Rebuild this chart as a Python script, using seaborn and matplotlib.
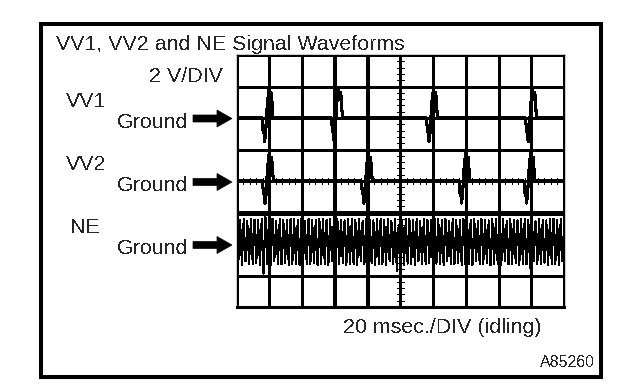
import numpy as np
import pandas as pd
import matplotlib
matplotlib.use("Agg")
import matplotlib.pyplot as plt
import matplotlib.transforms as mtransforms
from matplotlib.patches import Rectangle, Polygon
import seaborn as sns

# ---------------- data ----------------
time_range_ms = [0, 200]          # 10 divisions x 20 ms
ms_per_div = 20
volts_per_div = 2
volt_range = [-8, 8]              # 8 divisions x 2 V
vv1_ground_v = 4.0
vv2_ground_v = 0.0
ne_ground_v = -4.0

vv1_pulse_start_ms = [15.6, 58.0, 116.0, 176.5]
vv2_pulse_start_ms = [15.8, 76.2, 135.8, 175.5]
pulse_dt_ms = [0.0, 0.7, 1.0, 1.6, 2.3, 2.7, 3.3, 4.3, 5.1, 5.7, 6.7]
vv1_pulse_v = [0.0, -0.9, -0.5, -1.5, -0.8, 0.0, 1.0, 1.85, 1.15, 1.6, 0.0]
vv2_pulse_v = [0.0, -0.8, -0.5, -1.4, -0.8, 0.0, 1.0, 1.85, 1.2, 1.5, 0.0]

ne_tooth_period_ms = 2.2
ne_high_v = [1.6, 1.55, 1.6, 1.45, 1.6, 1.55, 1.5, 1.6]
ne_low_v = [-1.3, -1.35, -1.1, -1.3, -1.3, -1.2, -1.35, -1.25]
ne_gap_ms = [17.5, 98.0, 179.5]
ne_gap_high_v = [1.95, 1.2, 1.7]
ne_gap_low_v = [-1.9, -1.7, -1.5]

title_text = "VV1, VV2 and NE Signal Waveforms"
scale_text = "2 V/DIV"
channel_labels = ["VV1", "VV2", "NE"]
ground_label = "Ground"
time_text = "20 msec./DIV (idling)"
code_text = "A85260"

# ---------------- build traces ----------------
def pulse_trace(starts, shape, ground):
    t = [time_range_ms[0]]
    v = [ground]
    for s in starts:
        for dt, dv in zip(pulse_dt_ms, shape):
            t.append(s + dt)
            v.append(ground + dv)
    t.append(time_range_ms[1])
    v.append(ground)
    return pd.DataFrame({"t": t, "v": v})

vv1_df = pulse_trace(vv1_pulse_start_ms, vv1_pulse_v, vv1_ground_v)
vv2_df = pulse_trace(vv2_pulse_start_ms, vv2_pulse_v, vv2_ground_v)

ne_t, ne_v = [], []
half = ne_tooth_period_ms / 2
for i, t in enumerate(np.arange(time_range_ms[0], time_range_ms[1] + 1e-9, half)):
    k = i // 2
    val = ne_high_v[k % len(ne_high_v)] if i % 2 == 0 else ne_low_v[k % len(ne_low_v)]
    for g, gh, gl in zip(ne_gap_ms, ne_gap_high_v, ne_gap_low_v):
        if abs(t - g) < half:
            val = gh if i % 2 == 0 else gl
    ne_t.append(t)
    ne_v.append(ne_ground_v + val)
ne_df = pd.DataFrame({"t": ne_t, "v": ne_v})

# ---------------- figure ----------------
sns.set_style("white")
plt.rcParams["font.family"] = ["Liberation Sans", "DejaVu Sans"]
plt.rcParams["lines.antialiased"] = False
plt.rcParams["text.antialiased"] = False

W, H = 624, 390
fig = plt.figure(figsize=(W / 100, H / 100), dpi=100)
px = mtransforms.Affine2D().scale(1 / W, -1 / H).translate(0, 1) + fig.transFigure

gx0, gx1, gy0, gy1 = 236.5, 564.0, 55.0, 307.0
ax = fig.add_axes([gx0 / W, 1 - gy1 / H, (gx1 - gx0) / W, (gy1 - gy0) / H])

# graticule
ax.set_xlim(*time_range_ms)
ax.set_ylim(*volt_range)
ax.set_xticks(np.arange(time_range_ms[0], time_range_ms[1] + 1, ms_per_div))
ax.set_yticks(np.arange(volt_range[0], volt_range[1] + 1, volts_per_div))
ax.tick_params(length=0, labelbottom=False, labelleft=False)
ax.grid(True, color="black", lw=0.8)
ax.set_axisbelow(True)
for s in ["top", "left", "right"]:
    ax.spines[s].set_color("black")
    ax.spines[s].set_linewidth(1.0)
ax.spines["bottom"].set_color("black")
ax.spines["bottom"].set_linewidth(2.2)
for xv in [60, 80]:
    ax.axvline(xv, color="black", lw=1.5)
ax.axhline(-2, color="black", lw=2.2)

# minor ticks on centre lines
cx = (time_range_ms[0] + time_range_ms[1]) / 2
ax.hlines(np.arange(volt_range[0], volt_range[1] + 1e-9, volts_per_div / 5),
          cx - 2.0, cx + 2.0, color="black", lw=0.7)
ax.vlines(np.arange(time_range_ms[0], time_range_ms[1] + 1e-9, ms_per_div / 5),
          -0.22, 0.22, color="black", lw=0.7)

# traces
sns.lineplot(data=ne_df, x="t", y="v", ax=ax, color="black", lw=0.75,
             estimator=None, sort=False)
sns.lineplot(data=vv1_df, x="t", y="v", ax=ax, color="black", lw=1.5,
             estimator=None, sort=False)
sns.lineplot(data=vv2_df, x="t", y="v", ax=ax, color="black", lw=1.5,
             estimator=None, sort=False)
ax.set_xlabel("")
ax.set_ylabel("")

# outer frame
fig.patches.append(Rectangle((41, 23.5), 559.5, 353.5, transform=px, fill=False,
                             lw=2.9, ec="black"))

fs = 15.4
fig.text(56, 50, title_text, transform=px, fontsize=fs, ha="left", va="baseline")
fig.text(223, 82, scale_text, transform=px, fontsize=fs, ha="right", va="baseline")

ground_px = [118.0, 181.5, 244.5]
label_x = [66, 66, 70]
label_base = [107, 170, 233]
for lab, lx, lb, g in zip(channel_labels, label_x, label_base, ground_px):
    fig.text(lx, lb, lab, transform=px, fontsize=fs, ha="left", va="baseline")
    fig.text(117, g + 9.5, ground_label, transform=px, fontsize=fs, ha="left",
             va="baseline")
    gy = g + 0.5
    pts = [(193, gy - 3.5), (217, gy - 3.5), (217, gy - 8.5), (232, gy),
           (217, gy + 8.5), (217, gy + 3.5), (193, gy + 3.5)]
    fig.patches.append(Polygon(pts, closed=True, transform=px, fc="black",
                               ec="black", lw=0.5))

fig.text(343, 333, time_text, transform=px, fontsize=fs, ha="left", va="baseline")
fig.text(595, 367, code_text, transform=px, fontsize=11.5, ha="right", va="baseline")

fig.savefig("out.png", dpi=100)
